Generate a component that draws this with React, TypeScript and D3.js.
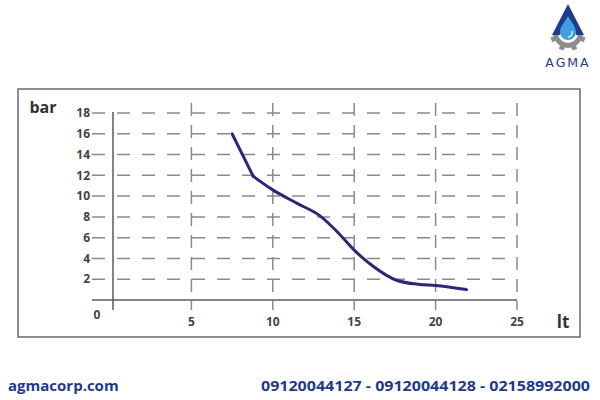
import React from "react";
import * as d3 from "d3";

const flowLt = [7.5, 8.8, 10, 11.5, 12.9, 14, 15, 16.2, 17.6, 19, 20, 21.9];
const pressureBar = [16, 11.9, 10.6, 9.3, 8.1, 6.5, 4.8, 3.2, 1.9, 1.5, 1.4, 1.0];
const yTicks = [2, 4, 6, 8, 10, 12, 14, 16, 18];
const xTicks = [5, 10, 15, 20, 25];
const siteText = "agmacorp.com";
const phoneText = "09120044127 - 09120044128 - 02158992000";
const brandText = "AGMA";

export default function App() {
  const x = d3.scaleLinear().domain([0, 25]).range([110, 517]);
  const y = d3.scaleLinear().domain([0, 18]).range([300, 113]);
  const pts = flowLt.map((v, i) => [v, pressureBar[i]] as [number, number]);
  const lineLin = d3
    .line<[number, number]>()
    .x((d) => x(d[0]))
    .y((d) => y(d[1]));
  const lineSmooth = d3
    .line<[number, number]>()
    .x((d) => x(d[0]))
    .y((d) => y(d[1]))
    .curve(d3.curveMonotoneX);
  const navy = "#1f3a8a";
  const grid = "#8a8a8a";
  const axisC = "#5a5a5a";
  const axisX = 113;
  const gearC = "#8c8c8c";
  const gcx = 568;
  const gcy = 33;
  return (
    <svg
      width={600}
      height={400}
      style={{ position: "absolute", left: 0, top: 0, background: "#fff" }}
      fontFamily="'Open Sans', 'Noto Sans', sans-serif"
    >
      <rect x={0} y={0} width={600} height={400} fill="#fff" />
      {/* logo */}
      <g>
        {/* gear lower half ring */}
        <path
          d={`M${gcx - 15},${gcy} A15,15 0 0 0 ${gcx + 15},${gcy} L${gcx + 10},${gcy} A10,10 0 0 1 ${gcx - 10},${gcy} Z`}
          fill={gearC}
        />
        {d3.range(4).map((i) => {
          const a = (i + 0.5) * (Math.PI / 4);
          const cx = gcx + Math.cos(a) * 15.5;
          const cy = gcy + Math.sin(a) * 15.5;
          return (
            <rect
              key={i}
              x={cx - 2.5}
              y={cy - 2.5}
              width={5}
              height={5}
              fill={gearC}
              transform={`rotate(${(a * 180) / Math.PI},${cx},${cy})`}
            />
          );
        })}
        {/* triangle */}
        <path d="M568,4 L584,35 L576,35 L568,19 L560,35 L552,35 Z" fill="#233a8c" />
        {/* drop */}
        <path
          d="M568,16 C572,23 576,27 576,32 A8,8 0 0 1 560,32 C560,27 564,23 568,16 Z"
          fill="#3e9ee0"
        />
        <path d="M572,31 A4.5,4.5 0 0 1 568,37" stroke="#fff" strokeWidth={1.3} fill="none" />
        <text
          x={568}
          y={67}
          textAnchor="middle"
          fontSize={12.5}
          fontFamily="'DejaVu Sans', sans-serif"
          fill="#233a8c"
          letterSpacing={2}
        >
          {brandText}
        </text>
      </g>
      {/* frame */}
      <rect x={18} y={89} width={562} height={248} fill="none" stroke="#6a6a6a" strokeWidth={1.5} />
      {/* horizontal grid */}
      {yTicks.map((t) => (
        <line
          key={"h" + t}
          x1={92}
          x2={x(25)}
          y1={y(t)}
          y2={y(t)}
          stroke={grid}
          strokeWidth={1.5}
          strokeDasharray="13,12"
        />
      ))}
      {/* vertical grid */}
      {xTicks.map((t) => (
        <line
          key={"v" + t}
          x1={x(t)}
          x2={x(t)}
          y1={103}
          y2={310}
          stroke={grid}
          strokeWidth={1.5}
          strokeDasharray="13,9"
        />
      ))}
      {/* axes */}
      <line x1={axisX} x2={axisX} y1={112} y2={310} stroke={axisC} strokeWidth={1.5} />
      <line x1={92} x2={x(25)} y1={y(0)} y2={y(0)} stroke={axisC} strokeWidth={1.5} />
      {yTicks.map((t) => (
        <text
          key={"yl" + t}
          x={90}
          y={y(t)}
          dy="0.35em"
          textAnchor="end"
          fontSize={12}
          fontWeight="bold"
          fill="#444"
        >
          {t}
        </text>
      ))}
      <text x={97} y={319} textAnchor="middle" fontSize={12} fontWeight="bold" fill="#444">
        0
      </text>
      {xTicks.map((t) => (
        <text
          key={"xl" + t}
          x={x(t)}
          y={326}
          textAnchor="middle"
          fontSize={12}
          fontWeight="bold"
          fill="#444"
        >
          {t}
        </text>
      ))}
      <text x={43} y={113} textAnchor="middle" fontSize={16} fontWeight="bold" fill="#333">
        bar
      </text>
      <text x={563} y={328} textAnchor="middle" fontSize={17} fontWeight="bold" fill="#333">
        lt
      </text>
      {/* curve: straight first segment to the kink, smooth afterwards */}
      <path d={lineLin(pts.slice(0, 2)) || ""} fill="none" stroke="#2a2878" strokeWidth={3} strokeLinecap="round" />
      <path d={lineSmooth(pts.slice(1)) || ""} fill="none" stroke="#2a2878" strokeWidth={3} strokeLinejoin="round" strokeLinecap="round" />
      {/* footer */}
      <text x={8} y={391} fontSize={15} fontWeight="bold" fill={navy}>
        {siteText}
      </text>
      <text
        x={261}
        y={391}
        fontSize={15}
        fontWeight="bold"
        fill={navy}
        textLength={329}
        lengthAdjust="spacingAndGlyphs"
      >
        {phoneText}
      </text>
    </svg>
  );
}
